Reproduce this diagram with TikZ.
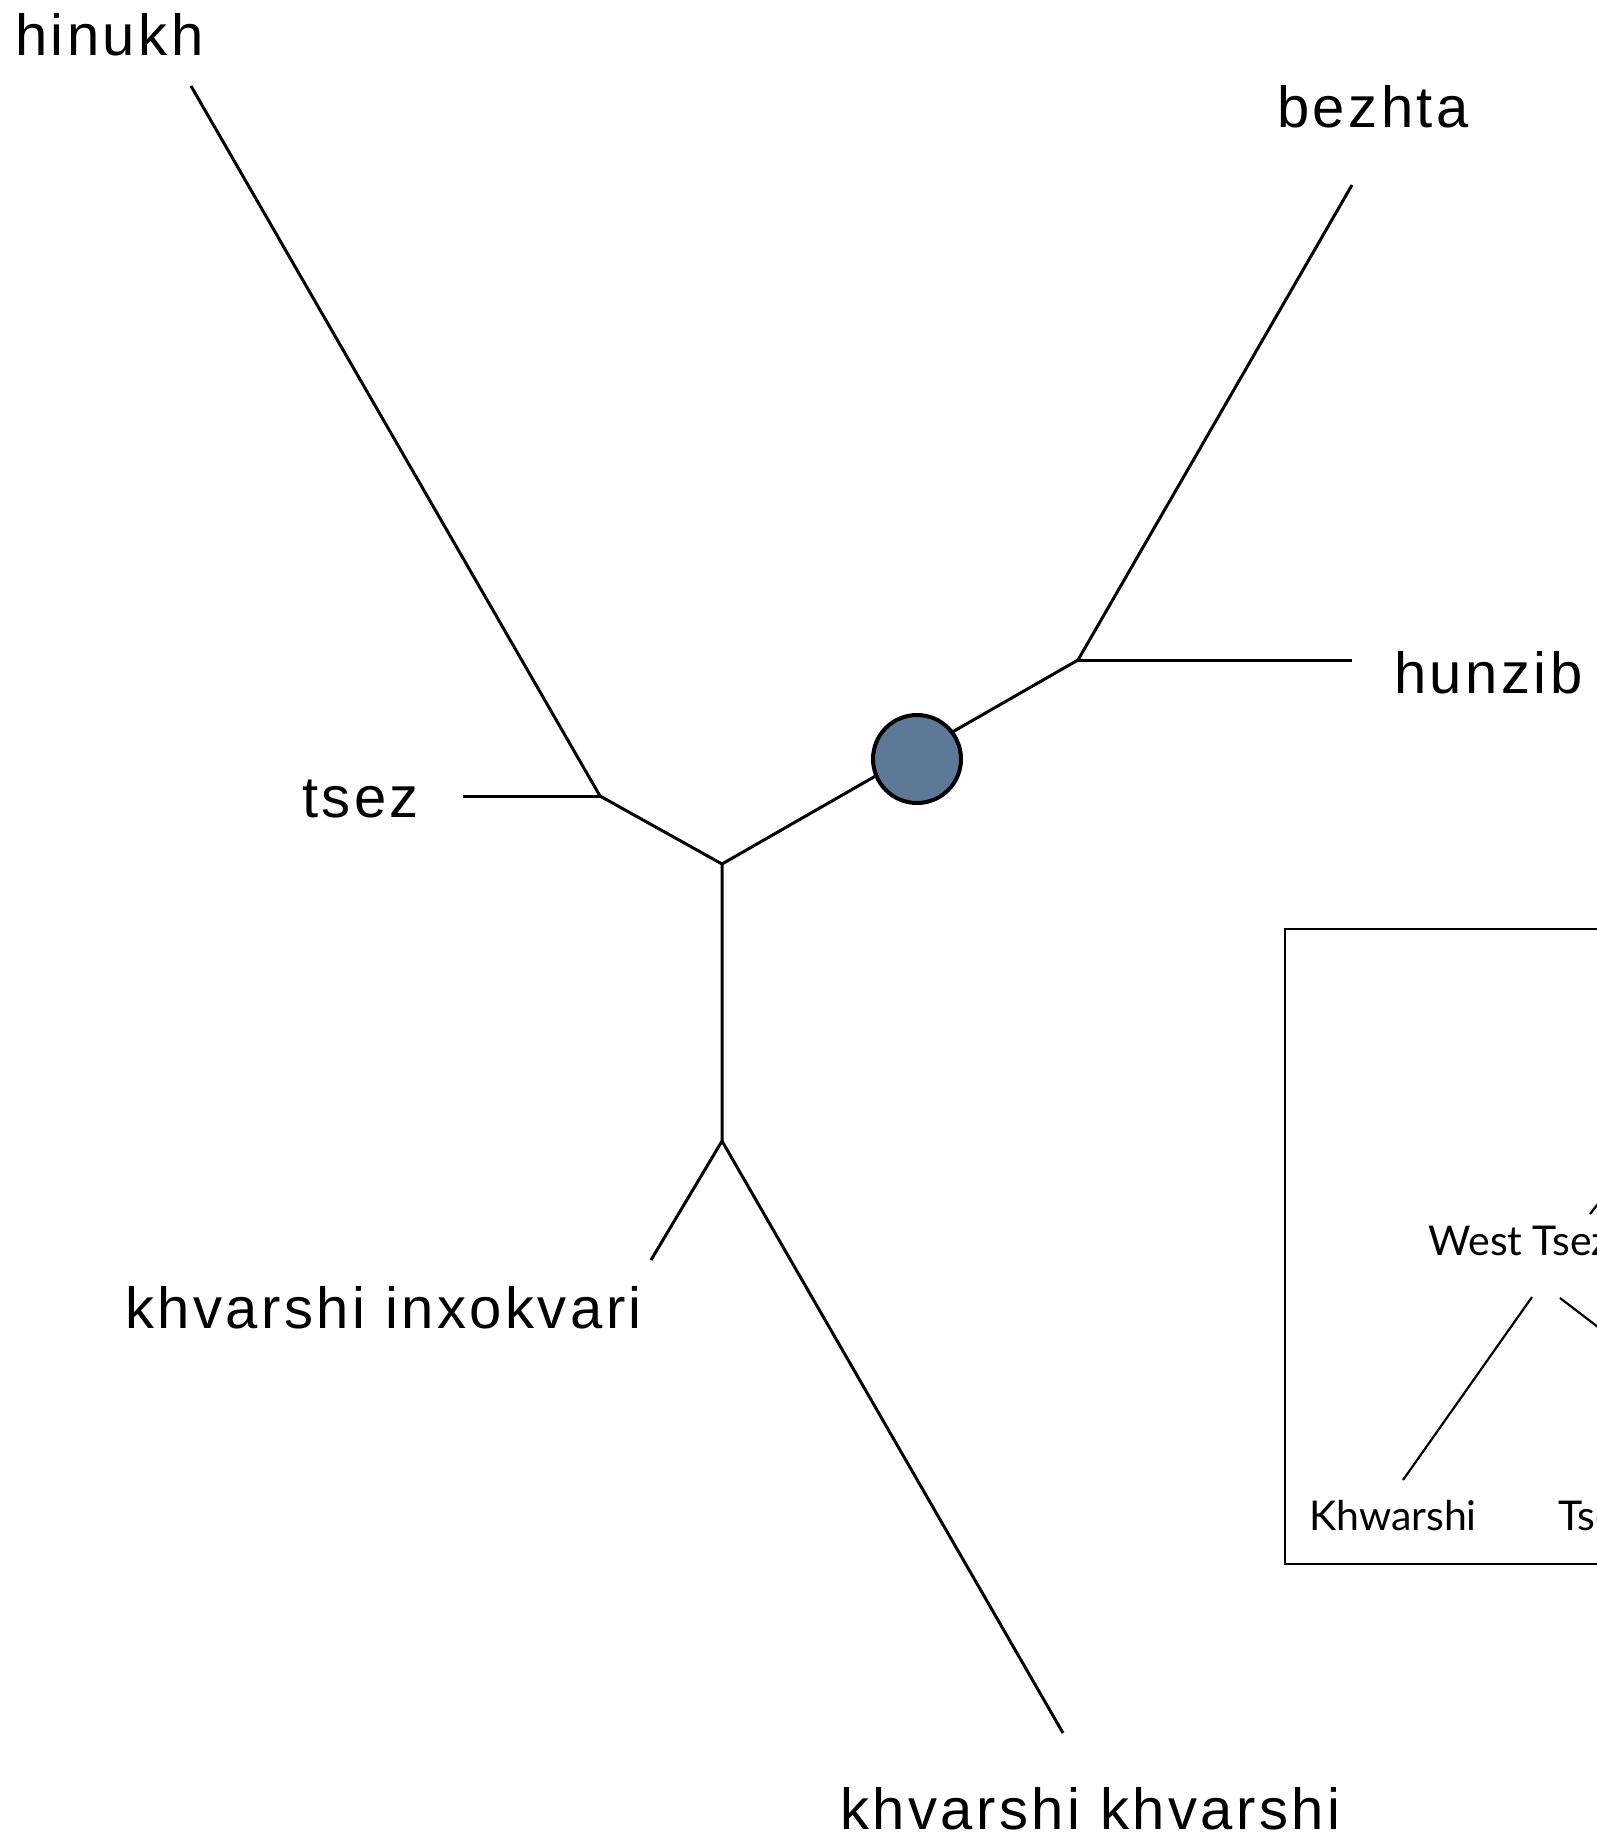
\documentclass[tikz,border=0pt]{standalone}
\usepackage{fontspec}
\setmainfont[LetterSpace=6]{Liberation Sans}
\newfontfamily\boxfont{Lato}
\definecolor{nodeblue}{RGB}{94,120,152}
\begin{document}
\begin{tikzpicture}[x=1pt,y=-1pt,
  branch/.style={line width=3pt, line cap=butt, line join=miter},
  leaf/.style={anchor=base west, inner sep=0pt, font=\fontsize{58}{68}\selectfont},
  boxlabel/.style={anchor=base west, inner sep=0pt, font=\boxfont\fontsize{41}{48}\selectfont},
  boxline/.style={line width=2.2pt},
  marker/.style={circle, draw=black, line width=4pt, fill=nodeblue, minimum size=88pt, inner sep=0pt}]
\useasboundingbox (0,0) rectangle (1597,1839);
\clip (0,0) rectangle (1597,1839);
% junctions and leaf ends
\coordinate (jtsez) at (600,796);
\coordinate (root) at (722,864);
\coordinate (jlow) at (722,1141);
\coordinate (jup) at (1078,660);
\coordinate (ehinukh) at (191,86);
\coordinate (etsez) at (463,796);
\coordinate (einx) at (651,1260);
\coordinate (ekhv) at (1063,1733);
\coordinate (ebezhta) at (1352,185);
\coordinate (ehunzib) at (1352,660);
% branches
\draw[branch] (ehinukh) -- (jtsez) -- (root) -- (jup) -- (ebezhta);
\draw[branch] (etsez) -- (jtsez);
\draw[branch] (root) -- (jlow) -- (einx);
\draw[branch] (jlow) -- (ekhv);
\draw[branch] (jup) -- (ehunzib);
% marker
\node[marker] (dot) at (917,759) {};
% leaf labels
\node[leaf] (lhinukh) at (15,55) {hinukh};
\node[leaf] (lbezhta) at (1277,127) {bezhta};
\node[leaf] (lhunzib) at (1394,693) {hunzib};
\node[leaf] (ltsez) at (302,817) {tsez};
\node[leaf] (linx) at (125,1328) {khvarshi inxokvari};
\node[leaf] (lkhv) at (840,1829) {khvarshi khvarshi};
% inset box
\draw[boxline] (1285,929) rectangle (1800,1564);
\node[boxlabel] (wt) at (1428,1255) {West Tsez};
\node[boxlabel] (kh) at (1309,1530) {Khwarshi};
\node[boxlabel] (ts) at (1558,1530) {Tsez};
\coordinate (wtup) at (1590,1214);
\coordinate (wtupend) at (1640,1150);
\coordinate (wtl) at (1532,1297);
\coordinate (khtop) at (1403,1480);
\coordinate (wtr) at (1560,1298);
\coordinate (tstop) at (1700,1405);
\draw[boxline] (wtup) -- (wtupend);
\draw[boxline] (wtl) -- (khtop);
\draw[boxline] (wtr) -- (tstop);
\end{tikzpicture}
\end{document}
